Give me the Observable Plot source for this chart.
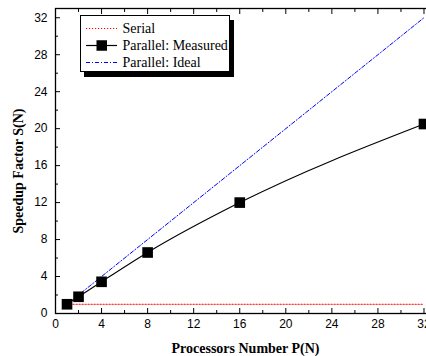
<!DOCTYPE html>
<html><head><meta charset="utf-8">
<script src="https://cdn.jsdelivr.net/npm/d3@7"></script>
<script src="https://cdn.jsdelivr.net/npm/@observablehq/plot@0.6"></script>
<style>
html,body{margin:0;padding:0;overflow:hidden;background:#fff;}
#wrap{position:relative;width:426px;height:356px;overflow:hidden;}
#wrap > svg{display:block;max-width:none !important;width:436px;height:356px;}
#legend{position:absolute;left:80px;top:15px;width:150px;height:57px;box-sizing:border-box;border:1px solid #000;background:#fff;box-shadow:4px 5px 0 0 #000;}
</style></head><body><div id="wrap"></div>
<script>
const procs = [1, 2, 4, 8, 16, 32];
const measured = [1.0, 1.81, 3.43, 6.6, 12.0, 20.5];
const serialX = [1, 32];
const serialY = [1, 1];
const idealX = [1, 32];
const idealY = [1, 32];
const majorTicks = [0, 4, 8, 12, 16, 20, 24, 28, 32];
const minorTicks = [2, 6, 10, 14, 18, 22, 26, 30];
const legendLabels = ["Serial", "Parallel: Measured", "Parallel: Ideal"];
const xLabel = "Processors Number P(N)";
const yLabel = "Speedup Factor S(N)";

const measuredData = procs.map((p, i) => ({p, s: measured[i]}));
const serialData = serialX.map((p, i) => ({p, s: serialY[i]}));
const idealData = idealX.map((p, i) => ({p, s: idealY[i]}));

const sans = "'Liberation Sans', Arial, sans-serif";
const serif = "'Liberation Serif', 'Times New Roman', serif";

const chart = Plot.plot({
  width: 436, height: 356,
  marginLeft: 55, marginRight: 1, marginTop: 8, marginBottom: 43,
  style: {fontFamily: sans, fontSize: "12px", color: "#000", background: "#fff", overflow: "visible", maxWidth: "none"},
  x: {domain: [0, 33]},
  y: {domain: [0, 33]},
  marks: [
    Plot.line(serialData, {x: "p", y: "s", stroke: "#ff0000", strokeWidth: 1.2, strokeDasharray: "1.2,1.8"}),
    Plot.line(idealData, {x: "p", y: "s", stroke: "#0000ff", strokeWidth: 1, strokeDasharray: "4,2,1,2"}),
    Plot.line(measuredData, {x: "p", y: "s", stroke: "#000", strokeWidth: 1.1, curve: "monotone-x"}),
    Plot.dot(measuredData, {x: "p", y: "s", symbol: "square", r: 6, fill: "#000", stroke: "none"}),
    Plot.frame({stroke: "#000", strokeWidth: 1.3}),
    Plot.axisX(majorTicks, {anchor: "bottom", tickSize: -5, tickPadding: 11, fontSize: 12, label: null}),
    Plot.axisX(minorTicks, {anchor: "bottom", tickSize: -3, tickFormat: () => "", label: null}),
    Plot.axisX(majorTicks, {anchor: "top", tickSize: -5, tickFormat: () => "", label: null}),
    Plot.axisX(minorTicks, {anchor: "top", tickSize: -3, tickFormat: () => "", label: null}),
    Plot.axisY(majorTicks, {anchor: "left", tickSize: -5, tickPadding: 13, fontSize: 12, label: null}),
    Plot.axisY(minorTicks, {anchor: "left", tickSize: -3, tickFormat: () => "", label: null}),
    Plot.text([xLabel], {text: d => d, frameAnchor: "bottom", dy: 35, fontFamily: serif, fontWeight: "bold", fontSize: 14, lineAnchor: "middle"}),
    Plot.text([yLabel], {text: d => d, frameAnchor: "left", dx: -37, dy: 10, rotate: -90, fontFamily: serif, fontWeight: "bold", fontSize: 14, lineAnchor: "middle", textAnchor: "middle"})
  ]
});
const wrap = document.getElementById("wrap");
wrap.appendChild(chart);

// legend
const leg = document.createElement("div");
leg.id = "legend";
const styles = [
  {stroke: "#ff0000", dash: "1.2,1.8", w: 1.2, marker: false},
  {stroke: "#000", dash: null, w: 1.2, marker: true},
  {stroke: "#0000ff", dash: "4,2,1,2", w: 1, marker: false}
];
const ns = "http://www.w3.org/2000/svg";
const svg = document.createElementNS(ns, "svg");
svg.setAttribute("width", 148); svg.setAttribute("height", 55);
legendLabels.forEach((lab, i) => {
  const y = 12.5 + i * 17;
  const st = styles[i];
  const ln = document.createElementNS(ns, "line");
  ln.setAttribute("x1", 5); ln.setAttribute("x2", 36);
  ln.setAttribute("y1", y); ln.setAttribute("y2", y);
  ln.setAttribute("stroke", st.stroke); ln.setAttribute("stroke-width", st.w);
  if (st.dash) ln.setAttribute("stroke-dasharray", st.dash);
  svg.appendChild(ln);
  if (st.marker) {
    const r = document.createElementNS(ns, "rect");
    r.setAttribute("x", 15.5); r.setAttribute("y", y - 5.25);
    r.setAttribute("width", 10.5); r.setAttribute("height", 10.5);
    r.setAttribute("fill", "#000");
    svg.appendChild(r);
  }
  const t = document.createElementNS(ns, "text");
  t.setAttribute("x", 41.5); t.setAttribute("y", y);
  t.setAttribute("dominant-baseline", "central");
  t.style.fontFamily = serif;
  t.style.fontSize = "14px";
  t.textContent = lab;
  svg.appendChild(t);
});
leg.appendChild(svg);
wrap.appendChild(leg);
</script>
</body></html>
